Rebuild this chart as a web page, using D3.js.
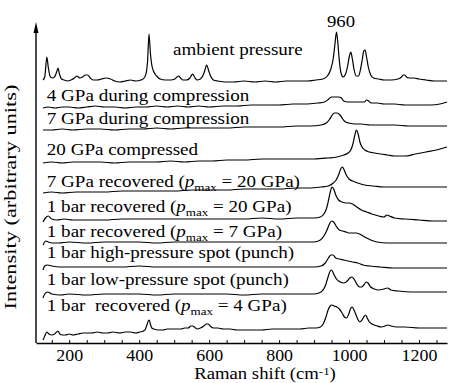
<!DOCTYPE html>
<html>
<head>
<meta charset="utf-8">
<script src="https://cdn.jsdelivr.net/npm/d3@7"></script>
<style>
  body { margin: 0; background: #fff; }
  svg text { font-family: 'Liberation Serif', 'Tinos', 'Times New Roman', 'DejaVu Serif', serif; fill: #000; }
</style>
</head>
<body>
<svg id="chart"></svg>
<script>
// Raman spectra, stacked: [Raman shift (cm-1), intensity (arbitrary units, offset included)]
const ambient = [
  [125,263],[130,266],[136,286],[140,276],[145,267],[151,265],[158,266],[164,271],[168,275],[172,269],[178,264],
  [185,263],[195,262],[205,263],[215,265],[222,267],[230,265],[238,266],[246,268],[253,268],[260,265],[268,263],
  [280,263],[292,264],[305,265],[318,264],[330,262],[345,261],[360,262],[375,263],[390,262],[405,263],[414,265],
  [420,270],[424,282],[428,309],[432,290],[436,278],[442,271],[450,267],[460,264],[475,263],[490,263],[502,264],
  [508,266],[513,267],[518,265],[525,263],[535,263],[545,265],[550,268],[553,269],[558,266],[565,263],[575,264],
  [583,268],[588,273],[593,278],[598,273],[604,267],[612,263],[625,262],[645,261],[670,261],[700,262],[730,261],
  [760,262],[790,261],[820,262],[850,262],[880,262],[905,263],[925,264],[938,267],[948,274],[955,285],[960,300],
  [964,311],[968,300],[972,283],[977,270],[983,266],[990,269],[996,277],[1001,287],[1005,291],[1009,285],[1014,274],
  [1020,267],[1027,267],[1033,274],[1038,284],[1042,292],[1046,293],[1050,286],[1055,276],[1062,268],[1070,265],
  [1085,264],[1100,263],[1120,263],[1140,264],[1150,266],[1155,268],[1159,268],[1164,266],[1172,265],[1185,265],
  [1200,264],[1220,263],[1245,262],[1265,262],[1280,262]
];
const gpa4Comp = [
  [125,235],[140,236],[160,235],[180,236],[200,236],[225,235],[250,236],[275,237],[300,236],[330,236],[360,235],
  [390,236],[420,236],[450,237],[480,236],[510,237],[540,236],[570,237],[600,236],[640,237],[680,237],[720,238],
  [760,238],[800,238],[840,239],[880,239],[910,240],[930,241],[942,244],[950,246],[960,246],[970,246],[978,245],
  [985,242],[995,241],[1010,241],[1030,241],[1044,241],[1050,243],[1056,242],[1063,240],[1080,240],[1100,239],
  [1130,239],[1160,238],[1200,238],[1235,238],[1260,239],[1280,241]
];
const gpa7Comp = [
  [125,213],[150,213],[180,214],[210,213],[250,214],[290,214],[330,213],[370,214],[410,214],[450,215],[490,214],
  [530,215],[570,215],[610,215],[650,215],[700,216],[750,216],[800,216],[850,217],[890,217],[920,218],[935,220],
  [945,224],[952,228],[958,230],[966,230],[974,228],[982,224],[990,221],[1000,220],[1015,219],[1035,219],[1060,218],
  [1090,218],[1130,218],[1170,217],[1210,217],[1250,217],[1280,217]
];
const gpa20Comp = [
  [125,180],[150,181],[180,180],[210,181],[250,181],[290,181],[330,180],[370,181],[410,181],[450,181],[490,182],
  [530,181],[570,182],[610,182],[650,183],[700,183],[750,184],[800,184],[850,184],[900,184],[940,185],[965,186],
  [985,188],[997,190],[1005,193],[1011,199],[1016,207],[1021,213],[1026,209],[1031,201],[1037,196],[1045,193],
  [1058,191],[1073,190],[1090,189],[1110,188],[1130,187],[1160,187],[1190,189],[1220,191],[1250,193],[1280,196]
];
const gpa7Rec = [
  [125,150],[150,151],[180,150],[220,151],[260,151],[300,151],[350,152],[400,152],[450,152],[500,152],[550,153],
  [600,153],[650,153],[700,154],[750,154],[800,154],[850,155],[890,155],[920,156],[940,157],[955,160],[963,163],
  [970,168],[976,174],[981,176],[986,173],[992,168],[1000,164],[1010,162],[1025,160],[1045,158],[1070,157],
  [1100,156],[1140,156],[1200,156],[1250,156],[1280,156]
];
const bar1Rec20 = [
  [125,121],[132,125],[140,127],[150,124],[165,123],[185,124],[210,123],[250,123],[300,123],[350,124],[400,124],
  [450,124],[500,124],[550,124],[600,124],[650,124],[700,124],[750,125],[800,124],[850,125],[900,125],[918,126],
  [928,129],[936,135],[942,144],[947,152],[951,156],[956,154],[962,148],[970,143],[980,141],[990,140],[1000,140],
  [1010,139],[1022,136],[1035,133],[1050,131],[1065,129],[1085,127],[1100,126],[1108,128],[1115,127],[1130,125],
  [1160,124],[1200,123],[1240,122],[1280,122]
];
const bar1Rec7 = [
  [125,98],[133,102],[140,101],[150,100],[170,100],[200,101],[250,100],[300,101],[350,101],[400,101],[450,100],
  [500,101],[550,101],[600,101],[650,101],[700,101],[750,101],[800,101],[850,101],[900,101],[918,103],[928,107],
  [937,113],[944,119],[950,122],[956,121],[963,117],[972,113],[982,112],[992,111],[1000,110],[1010,110],[1020,110],
  [1030,109],[1040,107],[1050,105],[1062,103],[1080,101],[1110,100],[1150,100],[1200,100],[1240,100],[1280,100]
];
const bar1HighP = [
  [125,73],[130,77],[138,78],[150,77],[175,76],[200,76],[250,76],[300,76],[350,76],[400,77],[450,76],[500,76],
  [550,76],[600,76],[650,76],[700,76],[750,76],[800,76],[850,76],[900,76],[920,77],[932,80],[941,85],[948,88],
  [954,88],[962,85],[972,84],[985,83],[997,82],[1010,81],[1025,80],[1040,78],[1060,77],[1090,76],[1130,75],
  [1180,75],[1230,75],[1280,75]
];
const bar1LowP = [
  [125,45],[130,49],[138,51],[150,49],[175,48],[200,49],[250,48],[300,49],[350,49],[400,49],[450,48],[500,49],
  [550,49],[600,49],[650,49],[700,48],[750,49],[800,49],[850,49],[900,49],[920,51],[932,57],[940,66],[946,72],
  [950,73],[956,69],[964,64],[975,61],[985,60],[995,62],[1002,65],[1008,66],[1014,64],[1022,59],[1030,56],
  [1036,56],[1042,58],[1049,61],[1054,60],[1062,56],[1072,54],[1085,53],[1100,54],[1110,55],[1120,53],[1140,52],
  [1180,51],[1230,51],[1280,51]
];
const bar1Rec4 = [
  [125,3],[130,7],[136,11],[142,9],[150,8],[158,9],[164,11],[168,12],[173,9],[180,8],[190,8],[200,9],[211,8],
  [225,9],[240,10],[251,10],[265,10],[280,11],[296,10],[310,10],[325,11],[345,10],[360,11],[375,11],[390,10],
  [402,11],[412,12],[418,14],[422,18],[426,22],[429,23],[432,19],[436,15],[442,14],[455,13],[468,13],[480,14],
  [495,14],[508,14],[520,14],[530,15],[540,15],[548,17],[553,17],[558,16],[565,14],[575,15],[585,17],[592,19],
  [597,19],[603,17],[612,15],[625,15],[640,14],[660,14],[679,13],[700,13],[725,13],[750,13],[780,14],[810,14],
  [836,14],[860,14],[885,15],[905,15],[918,16],[926,19],[934,26],[940,33],[946,37],[951,38],[957,37],[965,36],
  [972,34],[980,30],[987,26],[993,25],[999,29],[1004,34],[1009,36],[1014,33],[1020,28],[1026,23],[1031,21],
  [1037,23],[1042,26],[1047,28],[1052,25],[1058,21],[1066,19],[1080,17],[1093,16],[1103,17],[1110,18],[1120,17],
  [1135,16],[1160,16],[1200,15],[1240,15],[1280,15]
];

const spectra = [ambient, gpa4Comp, gpa7Comp, gpa20Comp, gpa7Rec, bar1Rec20, bar1Rec7, bar1HighP, bar1LowP, bar1Rec4];

// "p_max" is drawn as italic p with subscript max
const spectrumLabels = [
  'ambient pressure',
  '4 GPa during compression',
  '7 GPa during compression',
  '20 GPa compressed',
  '7 GPa recovered (p_max = 20 GPa)',
  '1 bar recovered (p_max = 20 GPa)',
  '1 bar recovered (p_max = 7 GPa)',
  '1 bar high-pressure spot (punch)',
  '1 bar low-pressure spot (punch)',
  '1 bar  recovered (p_max = 4 GPa)'
];
const peakLabel = '960';
const xTicks = d3.range(150, 1251, 50);
const xTickLabels = [200, 400, 600, 800, 1000, 1200];

// where each label's text starts, in data units [shift, intensity]
const labelAnchors = [[497,288],[136,242],[136,219],[136,188],[136,156],[136,131],[136,106],[136,85],[136,58],[136,32]];
const peakLabelAnchor = [977, 316];

const config = { width: 450, height: 383, stretch: 1.19 };
const serif = "'Liberation Serif', 'Tinos', 'Times New Roman', 'DejaVu Serif', serif";

const svg = d3.select('#chart')
  .attr('width', config.width)
  .attr('height', config.height);

const x = d3.scaleLinear().domain([105, 1280]).range([36, 447]);
const y = d3.scaleLinear().domain([0, 321]).range([343, 22]);

// spectra
const line = d3.line()
  .x((d) => x(d[0]))
  .y((d) => y(d[1]))
  .curve(d3.curveMonotoneX);

svg.append('g')
  .selectAll('path')
  .data(spectra)
  .join('path')
  .attr('d', line)
  .attr('fill', 'none')
  .attr('stroke', '#000')
  .attr('stroke-width', 1.2)
  .attr('stroke-linejoin', 'round');

// x axis, ticks point inward
const xAxis = d3.axisBottom(x)
  .tickValues(xTicks)
  .tickSizeInner(-3)
  .tickSizeOuter(0)
  .tickPadding(6)
  .tickFormat((d) => (xTickLabels.includes(d) ? d : ''));

const xg = svg.append('g')
  .attr('transform', `translate(0,${y(0)})`)
  .call(xAxis)
  .attr('font-family', serif);
xg.select('.domain').attr('stroke-width', 1.4);
xg.selectAll('.tick line').attr('stroke-width', 1);
xg.selectAll('.tick text')
  .attr('font-size', 16)
  .attr('transform', 'scale(1.12,1.04)');

// y axis with arrow
const yTop = y.domain()[1];
svg.append('line')
  .attr('x1', x(105)).attr('x2', x(105))
  .attr('y1', y(0)).attr('y2', y(yTop) + 6)
  .attr('stroke', '#000')
  .attr('stroke-width', 1.4);
svg.append('path')
  .attr('d', `M${x(105)},${y(yTop)} L${x(105) - 2.5},${y(yTop) + 11} L${x(105) + 2.5},${y(yTop) + 11} Z`)
  .attr('fill', '#000');

// spectrum labels
spectrumLabels.forEach((str, i) => {
  const a = labelAnchors[i];
  const t = svg.append('text')
    .attr('transform', `translate(${x(a[0])},${y(a[1])}) scale(${config.stretch},1)`)
    .attr('font-family', serif)
    .attr('font-size', 16)
    .style('white-space', 'pre');
  const parts = str.split('p_max');
  t.append('tspan').text(parts[0]);
  if (parts.length > 1) {
    t.append('tspan').attr('font-style', 'italic').text('p');
    t.append('tspan').attr('font-size', 11).attr('dy', 4).text('max');
    t.append('tspan').attr('dy', -4).text(parts[1]);
  }
});

svg.append('text')
  .attr('transform', `translate(${x(peakLabelAnchor[0])},${y(peakLabelAnchor[1])}) scale(1.1,1)`)
  .attr('text-anchor', 'middle')
  .attr('font-family', serif)
  .attr('font-size', 17)
  .text(peakLabel);

// axis titles
const xt = svg.append('text')
  .attr('transform', 'translate(265,379) scale(1.17,1)')
  .attr('text-anchor', 'middle')
  .attr('font-family', serif)
  .attr('font-size', 16);
xt.append('tspan').text('Raman shift (cm');
xt.append('tspan').attr('font-size', 11).attr('dy', -4).text('-1');
xt.append('tspan').attr('dy', 4).text(')');

svg.append('text')
  .attr('transform', 'translate(16,197) rotate(-90) scale(1.28,1)')
  .attr('text-anchor', 'middle')
  .attr('font-family', serif)
  .attr('font-size', 17.5)
  .text('Intensity (arbitrary units)');
</script>
</body>
</html>
